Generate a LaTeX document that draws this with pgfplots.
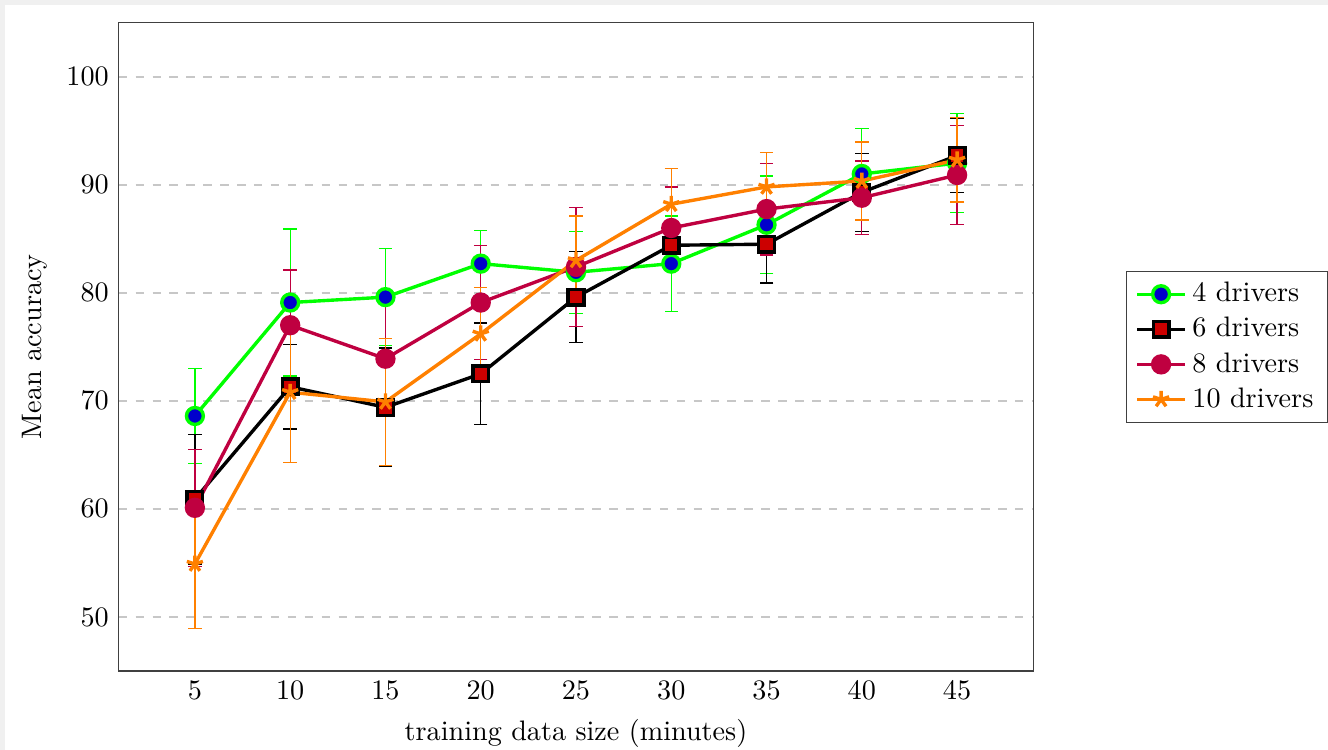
\documentclass[border=0pt]{standalone}
\usepackage{pgfplots}
\pgfplotsset{compat=1.18}
\usetikzlibrary{backgrounds}
\definecolor{cgreen}{rgb}{0,1,0}
\definecolor{cblue}{rgb}{0,0,0.8}
\definecolor{cred}{rgb}{0.8,0,0}
\definecolor{cpurple}{rgb}{0.75,0,0.25}
\definecolor{corange}{rgb}{1,0.5,0}
\begin{document}
\begin{tikzpicture}
\begin{axis}[
  width=324.5pt, height=230pt, scale only axis,
  xmin=1, xmax=49, ymin=45, ymax=105,
  xtick={5,10,...,45}, ytick={50,60,...,100},
  ymajorgrids, grid style={dashed, black!22, line width=0.6pt},
  major tick length=0pt,
  axis line style={black!75, line width=0.5pt},
  xlabel={training data size (minutes)}, ylabel={Mean accuracy},
  xlabel style={inner ysep=0pt, yshift=-3.8pt},
  legend style={at={(1,0.5)}, anchor=west, xshift=33pt, draw=black!75, legend cell align=left},
  every axis plot/.append style={line width=1.2pt},
  error bars/error bar style={line width=0.45pt},
  error bars/error mark options={rotate=90, mark size=2.4pt, line width=0.45pt},
]
\addplot[color=cgreen, mark=*, mark size=3pt, mark options={fill=cblue, draw=cgreen, line width=1.2pt},
  error bars/.cd, y dir=both, y explicit]
coordinates {
(5,68.6) +- (0,4.4)
(10,79.1) +- (0,6.8)
(15,79.6) +- (0,4.5)
(20,82.7) +- (0,3.1)
(25,81.9) +- (0,3.8)
(30,82.7) +- (0,4.4)
(35,86.3) +- (0,4.5)
(40,91.0) +- (0,4.2)
(45,92.0) +- (0,4.6)
};
\addlegendentry{4 drivers}
\addplot[color=black, mark=square*, mark size=2.8pt, mark options={fill=cred, draw=black, line width=1.2pt},
  error bars/.cd, y dir=both, y explicit]
coordinates {
(5,60.9) +- (0,6.0)
(10,71.3) +- (0,3.9)
(15,69.4) +- (0,5.5)
(20,72.5) +- (0,4.7)
(25,79.6) +- (0,4.2)
(30,84.4) +- (0,2.2)
(35,84.5) +- (0,3.6)
(40,89.3) +- (0,3.6)
(45,92.7) +- (0,3.4)
};
\addlegendentry{6 drivers}
\addplot[color=cpurple, mark=*, mark size=3pt, mark options={fill=cpurple, draw=cpurple},
  error bars/.cd, y dir=both, y explicit]
coordinates {
(5,60.1) +- (0,5.4)
(10,77.0) +- (0,5.1)
(15,73.9) +- (0,5.1)
(20,79.1) +- (0,5.3)
(25,82.4) +- (0,5.5)
(30,86.0) +- (0,3.8)
(35,87.75) +- (0,4.25)
(40,88.8) +- (0,3.4)
(45,90.9) +- (0,4.6)
};
\addlegendentry{8 drivers}
\addplot[color=corange, mark=star, mark size=3pt, mark options={draw=corange, line width=1.2pt},
  error bars/.cd, y dir=both, y explicit]
coordinates {
(5,54.9) +- (0,6.0)
(10,70.8) +- (0,6.5)
(15,69.9) +- (0,5.9)
(20,76.2) +- (0,4.3)
(25,83.0) +- (0,4.1)
(30,88.2) +- (0,3.3)
(35,89.8) +- (0,3.2)
(40,90.35) +- (0,3.6)
(45,92.3) +- (0,3.9)
};
\addlegendentry{10 drivers}
\end{axis}
\path ([xshift=-4.5pt,yshift=7.8pt]current bounding box.north west);
\path ([yshift=-0.7pt]current bounding box.south east);
\begin{scope}[on background layer]
\fill[black!6] (current bounding box.south west) rectangle (current bounding box.north east);
\fill[white] ([xshift=1.8pt,yshift=-1.8pt]current bounding box.north west) rectangle (current bounding box.south east);
\end{scope}
\end{tikzpicture}
\end{document}
